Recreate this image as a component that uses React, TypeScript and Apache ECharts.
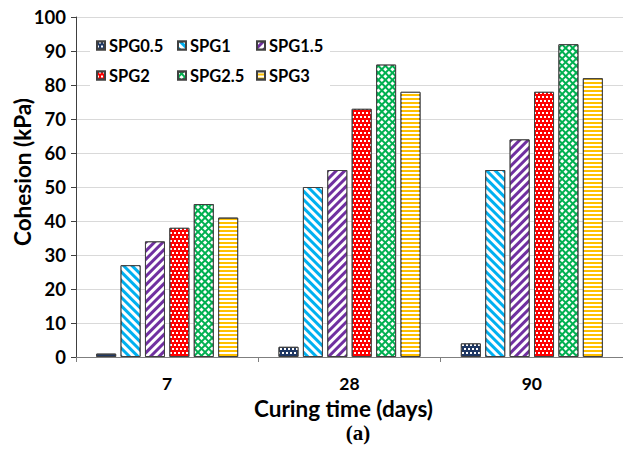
import React, { useEffect, useRef } from "react";
import * as echarts from "echarts";

const categories = ["7", "28", "90"];
const seriesNames = ["SPG0.5", "SPG1", "SPG1.5", "SPG2", "SPG2.5", "SPG3"];
const spg05 = [1, 3, 4];
const spg1 = [27, 50, 55];
const spg15 = [34, 55, 64];
const spg2 = [38, 73, 78];
const spg25 = [45, 86, 92];
const spg3 = [41, 78, 82];
const yTicks = [0, 10, 20, 30, 40, 50, 60, 70, 80, 90, 100];

const FONT = "Lato";

export default function App() {
  const ref = useRef<HTMLDivElement>(null);
  useEffect(() => {
    if (!ref.current) return;
    const chart = echarts.init(ref.current, undefined, { renderer: "svg" });
    const values = [spg05, spg1, spg15, spg2, spg25, spg3];
    const styles: any[] = [
      { color: "#1f3864", decal: { symbol: "rect", color: "#ffffff", symbolSize: 1, dashArrayX: [[2, 2], [0, 2, 2, 0]], dashArrayY: [2, 2], rotation: 0 } },
      { color: "#00b0f0", decal: { symbol: "rect", color: "#ffffff", symbolSize: 1, dashArrayX: [1, 0], dashArrayY: [3, 3], rotation: Math.PI / 4 } },
      { color: "#7030a0", decal: { symbol: "rect", color: "#ffffff", symbolSize: 1, dashArrayX: [1, 0], dashArrayY: [3, 3], rotation: -Math.PI / 4 } },
      { color: "#ff0000", decal: { symbol: "rect", color: "#ffffff", symbolSize: 1, dashArrayX: [[1.5, 1.5], [0, 1.5, 1.5, 0]], dashArrayY: [1.5, 1.5], rotation: 0 } },
      { color: "#00b050", decal: { symbol: "rect", color: "#ffffff", symbolSize: 1, dashArrayX: [3, 1.5], dashArrayY: [3, 1.5], rotation: Math.PI / 4 } },
      { color: "#ffc000", decal: { symbol: "rect", color: "#ffffff", symbolSize: 1, dashArrayX: [1, 0], dashArrayY: [2, 2], rotation: 0 } },
    ];
    const series = seriesNames.map((name, i) => ({
      name,
      type: "bar",
      data: values[i],
      barWidth: 20,
      barGap: "22%",
      itemStyle: { ...styles[i], borderColor: "#404040", borderWidth: 1 },
      emphasis: { disabled: true },
    }));
    const legendPos = [
      [96, 37], [177, 37], [256, 37],
      [96, 67], [177, 67], [256, 67],
    ];
    const legends = seriesNames.map((name, i) => ({
      data: [name],
      left: legendPos[i][0],
      top: legendPos[i][1],
      padding: 0,
      icon: "rect",
      itemWidth: 8,
      itemHeight: 8,
      itemGap: 4,
      selectedMode: false,
      textStyle: { fontFamily: FONT, fontWeight: "bold", fontSize: 16.5, color: "#000", padding: [0, 0, 0, -1] },
    }));
    chart.setOption({
      animation: false,
      backgroundColor: "#ffffff",
      grid: { left: 76, top: 17, bottom: 93, width: 552, containLabel: false },
      legend: legends,
      xAxis: {
        type: "category",
        data: categories,
        axisLine: { lineStyle: { color: "#7f7f7f", width: 1 } },
        axisTick: { show: true, length: 5, lineStyle: { color: "#7f7f7f" } },
        axisLabel: { fontFamily: FONT, fontWeight: "bold", fontSize: 17.5, color: "#000", margin: 17 },
        name: "Curing time (days)",
        nameLocation: "middle",
        nameGap: 25,
        nameTextStyle: { fontFamily: FONT, fontWeight: "bold", fontSize: 22.5, color: "#000", verticalAlign: "top", padding: [0, 12, 0, 0] },
      },
      yAxis: {
        type: "value",
        min: 0,
        max: 100,
        interval: 10,
        axisLine: { show: true, lineStyle: { color: "#404040", width: 1 } },
        axisTick: { show: true, length: 5, lineStyle: { color: "#404040" } },
        splitLine: { show: true, lineStyle: { color: "#d9d9d9", width: 1 } },
        axisLabel: {
          fontFamily: FONT,
          fontWeight: "bold",
          fontSize: 18.5,
          color: "#000",
          margin: 10,
          formatter: (v: number) => (yTicks.includes(v) ? String(v) : ""),
        },
      },
      graphic: [
        { type: "rect", z: 1, shape: { x: 90, y: 35, width: 240, height: 52 }, style: { fill: "#ffffff" } },
        {
          type: "text",
          x: 22,
          y: 172,
          rotation: Math.PI / 2,
          style: { text: "Cohesion (kPa)", fontFamily: FONT, fontWeight: "bold", fontSize: 22.5, fill: "#000", align: "center", verticalAlign: "middle" },
        },
        {
          type: "text",
          x: 358,
          y: 433,
          style: { text: "(a)", fontFamily: "Liberation Serif", fontWeight: "bold", fontSize: 21, fill: "#000", align: "center", verticalAlign: "middle" },
        },
      ],
      series,
    });
    return () => chart.dispose();
  }, []);
  return <div ref={ref} style={{ width: 623, height: 450, position: "absolute", left: 0, top: 0 }} />;
}
